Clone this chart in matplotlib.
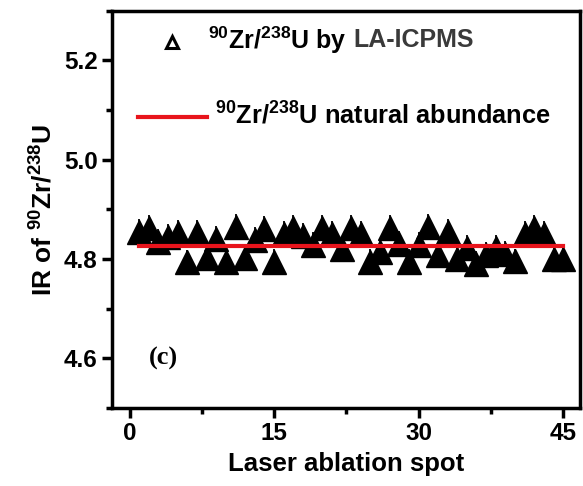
import matplotlib
matplotlib.use("Agg")
import matplotlib.pyplot as plt
from matplotlib.ticker import MultipleLocator

plt.rcParams['font.family'] = ['Liberation Sans', 'DejaVu Sans']
plt.rcParams['font.weight'] = 'bold'
plt.rcParams['mathtext.fontset'] = 'custom'
plt.rcParams['mathtext.rm'] = 'Liberation Sans:bold'
plt.rcParams['mathtext.it'] = 'Liberation Sans:bold'
plt.rcParams['mathtext.bf'] = 'Liberation Sans:bold'
plt.rcParams['mathtext.default'] = 'rm'

# Data
spots = list(range(1, 46))
ir_values = [4.855, 4.862, 4.835, 4.845, 4.853, 4.793, 4.853, 4.802, 4.841, 4.794,
             4.864, 4.802, 4.838, 4.861, 4.794, 4.851, 4.862, 4.846, 4.829, 4.862,
             4.851, 4.821, 4.862, 4.851, 4.794, 4.815, 4.862, 4.830, 4.794, 4.828,
             4.864, 4.808, 4.855, 4.800, 4.823, 4.790, 4.808, 4.823, 4.810, 4.795,
             4.850, 4.862, 4.851, 4.800, 4.800]
ir_err = [0.026] * len(spots)
natural_x = [1, 45]
natural_y = [4.826, 4.826]

fig = plt.figure(figsize=(5.83, 4.86), dpi=100)
ax = fig.add_axes([0.1916, 0.1605, 0.8033, 0.8175])

ax.errorbar(spots, ir_values, yerr=ir_err, fmt='^', color='black', ms=17,
            elinewidth=1.3, capsize=0, zorder=3)
ax.plot(natural_x, natural_y, color='#e8141c', lw=3, zorder=4)

ax.set_xlim(-1.85, 46.75)
ax.set_ylim(4.5, 5.3)
ax.xaxis.set_major_locator(MultipleLocator(15))
ax.xaxis.set_minor_locator(MultipleLocator(7.5))
ax.yaxis.set_minor_locator(MultipleLocator(0.1))
ax.set_yticks([4.6, 4.8, 5.0, 5.2])
ax.set_yticklabels(['4.6', '4.8', '5.0', '5.2'])

for s in ax.spines.values():
    s.set_linewidth(2.5)
ax.tick_params(which='major', direction='out', length=7, width=2.5, labelsize=17.5, pad=3)
ax.tick_params(which='minor', direction='out', length=4, width=2.5)
for lab in ax.get_xticklabels() + ax.get_yticklabels():
    lab.set_fontweight('bold')

ax.set_xlabel('Laser ablation spot', fontsize=18.5, fontweight='bold', labelpad=5)
ax.set_ylabel('IR of $^{90}$Zr/$^{238}$U', fontsize=19, fontweight='bold', labelpad=5)

# Legend drawn manually
ax.plot([0.129], [0.921], marker='^', ms=9, mfc='white', mec='black', mew=2.2,
        transform=ax.transAxes, clip_on=False)
ax.text(0.205, 0.926, '$^{90}$Zr/$^{238}$U by', transform=ax.transAxes,
        fontsize=18, fontweight='bold', va='center', ha='left')
ax.text(0.515, 0.926, 'LA-ICPMS', transform=ax.transAxes,
        fontsize=18, fontweight='bold', va='center', ha='left', color='#3a3a3a')
ax.plot([0.056, 0.204], [0.733, 0.733], color='#e8141c', lw=3,
        transform=ax.transAxes, clip_on=False)
ax.text(0.22, 0.737, '$^{90}$Zr/$^{238}$U natural abundance', transform=ax.transAxes,
        fontsize=18.3, fontweight='bold', va='center', ha='left')

ax.text(2.0, 4.6, '(c)', fontsize=19, fontweight='bold', family='Liberation Serif',
        va='center', ha='left')

fig.savefig('out.png', dpi=100)
